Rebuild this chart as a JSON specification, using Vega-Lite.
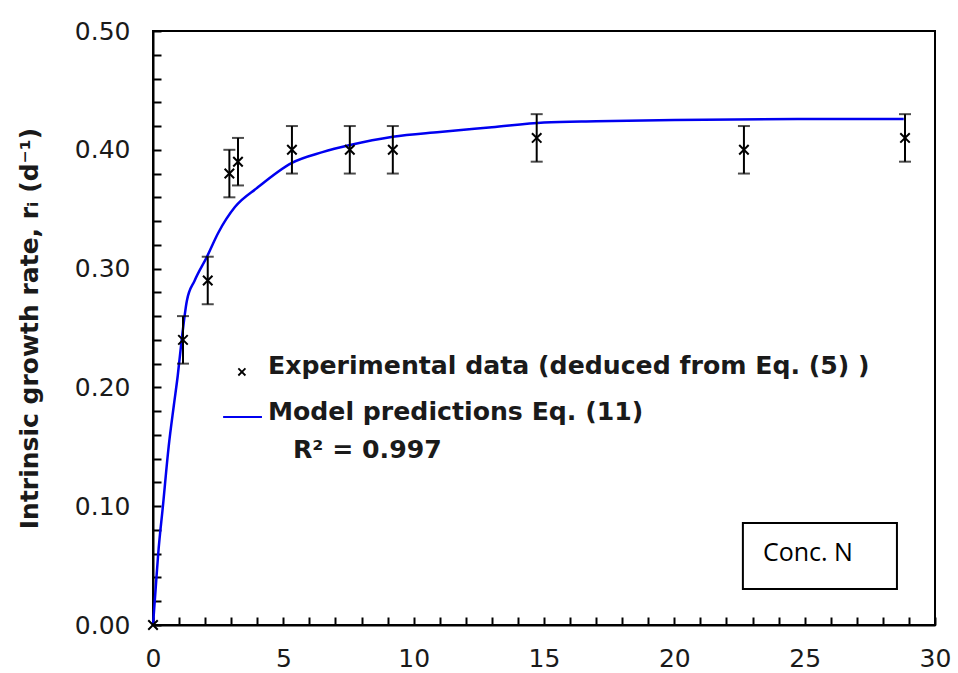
{
  "$schema": "https://vega.github.io/schema/vega-lite/v6.json",
  "autosize": "none",
  "width": 782,
  "height": 594,
  "padding": {"left": 153, "top": 31, "right": 23, "bottom": 48},
  "background": "white",
  "config": {
    "view": {"stroke": "black", "strokeWidth": 2},
    "axis": {
      "grid": false,
      "domainColor": "black",
      "domainWidth": 2,
      "tickColor": "black",
      "tickWidth": 2,
      "tickSize": -8,
      "labelFont": "DejaVu Sans",
      "labelFontSize": 25,
      "labelColor": "#1a1a1a",
      "titleFont": "DejaVu Sans",
      "titleFontSize": 25,
      "titleFontWeight": "bold",
      "titleColor": "#1a1a1a"
    }
  },
  "datasets": {
    "model": [
      {"x": 0, "y": 0}, {"x": 0.1, "y": 0.03}, {"x": 0.2, "y": 0.06}, {"x": 0.38, "y": 0.10},
      {"x": 0.6, "y": 0.15}, {"x": 0.8, "y": 0.185}, {"x": 0.95, "y": 0.21}, {"x": 1.1, "y": 0.24},
      {"x": 1.3, "y": 0.273}, {"x": 1.6, "y": 0.29}, {"x": 2.07, "y": 0.31}, {"x": 2.5, "y": 0.33},
      {"x": 3.15, "y": 0.352}, {"x": 4.0, "y": 0.368}, {"x": 5.33, "y": 0.389}, {"x": 6.5, "y": 0.398},
      {"x": 7.56, "y": 0.404}, {"x": 9.2, "y": 0.411}, {"x": 11, "y": 0.415}, {"x": 13, "y": 0.419},
      {"x": 15, "y": 0.423}, {"x": 17, "y": 0.424}, {"x": 20, "y": 0.425}, {"x": 25, "y": 0.426},
      {"x": 28.8, "y": 0.426}
    ],
    "exp": [
      {"x": 0, "y": 0},
      {"x": 1.15, "y": 0.24, "lo": 0.22, "hi": 0.26},
      {"x": 2.1, "y": 0.29, "lo": 0.27, "hi": 0.31},
      {"x": 2.93, "y": 0.38, "lo": 0.36, "hi": 0.40},
      {"x": 3.26, "y": 0.39, "lo": 0.37, "hi": 0.41},
      {"x": 5.33, "y": 0.40, "lo": 0.38, "hi": 0.42},
      {"x": 7.55, "y": 0.40, "lo": 0.38, "hi": 0.42},
      {"x": 9.2, "y": 0.40, "lo": 0.38, "hi": 0.42},
      {"x": 14.72, "y": 0.41, "lo": 0.39, "hi": 0.43},
      {"x": 22.67, "y": 0.40, "lo": 0.38, "hi": 0.42},
      {"x": 28.85, "y": 0.41, "lo": 0.39, "hi": 0.43}
    ],
    "legendText": [
      {"x": 4.41, "y": 0.218, "t": "Experimental data (deduced from Eq. (5) )"},
      {"x": 4.41, "y": 0.179, "t": "Model predictions Eq. (11)"},
      {"x": 5.37, "y": 0.147, "t": "R² = 0.997"}
    ]
  },
  "encoding": {
    "x": {"field": "x", "type": "quantitative",
      "scale": {"domain": [0, 30], "nice": false},
      "axis": {"title": null,
        "values": [0,1,2,3,4,5,6,7,8,9,10,11,12,13,14,15,16,17,18,19,20,21,22,23,24,25,26,27,28,29,30],
        "labelExpr": "datum.value % 5 === 0 ? datum.label : ''",
        "labelPadding": 29, "labelFlush": false}},
    "y": {"field": "y", "type": "quantitative",
      "scale": {"domain": [0, 0.5], "nice": false},
      "axis": {"title": "Intrinsic growth rate, rᵢ (d⁻¹)",
        "values": [0,0.02,0.04,0.06,0.08,0.1,0.12,0.14,0.16,0.18,0.2,0.22,0.24,0.26,0.28,0.3,0.32,0.34,0.36,0.38,0.4,0.42,0.44,0.46,0.48,0.5],
        "format": ".2f",
        "labelExpr": "round(datum.value * 100) % 10 === 0 ? datum.label : ''",
        "labelPadding": 31, "labelFlush": false, "titlePadding": 32}}
  },
  "layer": [
    {
      "data": {"values": [{"x": 22.63, "x2": 28.54, "y": 0.0859, "y2": 0.0303}]},
      "mark": {"type": "rect", "fill": "white", "stroke": "black", "strokeWidth": 2},
      "encoding": {"x2": {"field": "x2"}, "y2": {"field": "y2"}}
    },
    {
      "data": {"name": "model"},
      "mark": {"type": "line", "color": "#0000f0", "strokeWidth": 2.5, "interpolate": "monotone"}
    },
    {
      "data": {"name": "exp"},
      "transform": [{"filter": "isValid(datum.lo)"}],
      "layer": [
        {"mark": {"type": "rule", "color": "black", "strokeWidth": 2},
         "encoding": {"y": {"field": "lo", "type": "quantitative"}, "y2": {"field": "hi"}}},
        {"mark": {"type": "tick", "orient": "horizontal", "color": "black", "thickness": 2, "size": 12},
         "encoding": {"y": {"field": "lo", "type": "quantitative"}}},
        {"mark": {"type": "tick", "orient": "horizontal", "color": "black", "thickness": 2, "size": 12},
         "encoding": {"y": {"field": "hi", "type": "quantitative"}}}
      ]
    },
    {
      "data": {"name": "exp"},
      "mark": {"type": "point", "shape": "M-1,-1L1,1M-1,1L1,-1", "filled": false, "color": "black", "strokeWidth": 2, "size": 90, "opacity": 1}
    },
    {
      "data": {"values": [{"x": 3.41, "y": 0.213}]},
      "mark": {"type": "point", "shape": "M-1,-1L1,1M-1,1L1,-1", "filled": false, "color": "black", "strokeWidth": 1.8, "size": 50, "opacity": 1}
    },
    {
      "data": {"values": [{"x": 2.69, "x2": 4.18, "y": 0.175}]},
      "mark": {"type": "rule", "color": "#0000f0", "strokeWidth": 2},
      "encoding": {"x2": {"field": "x2"}}
    },
    {
      "data": {"name": "legendText"},
      "mark": {"type": "text", "align": "left", "baseline": "middle", "font": "DejaVu Sans", "fontWeight": "bold", "fontSize": 25.2, "color": "#1a1a1a"},
      "encoding": {"text": {"field": "t"}}
    },
    {
      "data": {"values": [{"x": 23.4, "y": 0.0606, "t": "Conc. N"}]},
      "mark": {"type": "text", "align": "left", "baseline": "middle", "font": "Open Sans", "fontSize": 25, "color": "black"},
      "encoding": {"text": {"field": "t"}}
    }
  ]
}
